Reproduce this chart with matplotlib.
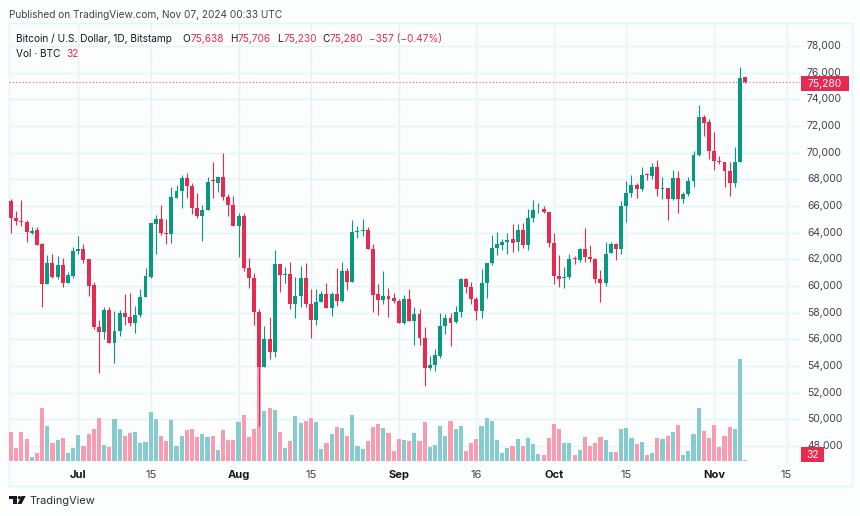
import numpy as np
import pandas as pd
import matplotlib
matplotlib.use("Agg")
import matplotlib.pyplot as plt
from matplotlib.patches import Polygon, Rectangle, Circle
from matplotlib.lines import Line2D
from matplotlib.transforms import blended_transform_factory

start_date = "2024-06-18"

opens = [66400, 65075, 64875, 64775, 63975, 64200, 63125, 60150, 61700, 60700, 61575, 60250, 60775,
         62650, 62750, 62000, 60075, 56950, 56550, 58200, 55750, 56600, 57950, 57650, 57250, 57825,
         59200, 60700, 64675, 65000, 64000, 63900, 66625, 67100, 68100, 67500, 65875, 65250, 65700,
         67925, 67750, 68150, 66700, 66100, 64500, 65250, 61350, 60600, 58050, 53950, 56000, 55050,
         61650, 60800, 60875, 58650, 59250, 60575, 58625, 57450, 58800, 59425, 58375, 59375, 58900,
         61100, 60325, 64050, 64125, 64200, 62750, 59400, 58950, 59275, 59075, 58900, 57200, 59050,
         57400, 57875, 56100, 53850, 54075, 54775, 57000, 57600, 57275, 58050, 60500, 59925, 59025,
         58150, 60250, 61700, 62850, 63100, 63275, 63500, 63300, 64225, 63050, 65125, 65750, 65800,
         65525, 63250, 60725, 60575, 60650, 62075, 61950, 62750, 62150, 62025, 60525, 60200, 62450,
         63150, 62750, 66000, 67000, 67550, 67300, 68400, 68275, 68950, 67300, 67325, 66500, 68075,
         66500, 66900, 67875, 69850, 72650, 72275, 70150, 69400, 69275, 68650, 67750, 69325, 75638]
highs = [66500, 65650, 66450, 64950, 64400, 64400, 63200, 62325, 62400, 62250, 62075, 61075, 62900,
         63750, 63150, 62000, 60325, 57450, 58400, 58400, 58125, 58200, 59400, 59450, 58500, 59800,
         61325, 64725, 65325, 66075, 65050, 67400, 67550, 68300, 68450, 67750, 67000, 66075, 68150,
         69325, 68200, 69950, 66900, 66750, 65450, 65500, 62075, 60950, 58250, 57000, 57650, 62700,
         61650, 61450, 61800, 60650, 61525, 61750, 59750, 59750, 59650, 60200, 59575, 61350, 61775,
         61350, 64950, 64500, 65050, 64400, 63150, 60150, 61150, 59825, 59450, 59000, 59325, 59750,
         58450, 58250, 56950, 54750, 55250, 57950, 57900, 57950, 58500, 60575, 60575, 60325, 59150,
         61250, 61700, 63825, 64050, 63500, 63950, 64625, 64625, 64700, 65750, 66450, 66200, 66025,
         65525, 64000, 62300, 61400, 62400, 62250, 62825, 64375, 63075, 62100, 61200, 63325, 63325,
         63200, 66400, 67850, 68325, 67750, 68950, 68500, 69250, 69450, 68150, 67325, 68700, 68650,
         67075, 68150, 70150, 73575, 72825, 72500, 71575, 69750, 69325, 69325, 70450, 76400, 75706]
lows = [63950, 64575, 64500, 63325, 63875, 63075, 58450, 60150, 60575, 60500, 59900, 60200, 60575,
        62400, 61700, 59275, 56750, 53500, 56000, 55700, 54250, 56275, 57100, 57000, 56500, 57700,
        59200, 60600, 62400, 63850, 63150, 63250, 66575, 65825, 66575, 65400, 65075, 63375, 65700,
        66575, 67025, 66450, 65250, 64500, 62150, 61100, 59825, 57075, 49500, 53950, 54500, 54700,
        59550, 60200, 58250, 57625, 58450, 58450, 56100, 57075, 58800, 58325, 57775, 58500, 58825,
        59700, 60325, 63575, 63750, 62775, 58050, 57825, 58650, 57700, 58700, 57200, 57125, 57350,
        55550, 55575, 52500, 53700, 53625, 54575, 56375, 55500, 57250, 57650, 59450, 58650, 57450,
        57625, 59100, 61575, 62300, 62700, 62400, 62575, 62650, 62875, 62700, 64825, 65450, 65450,
        62900, 60125, 59900, 59825, 60500, 61650, 61775, 61825, 61800, 60200, 58825, 60000, 62450,
        61950, 62400, 64775, 66700, 66575, 67150, 67950, 68000, 66750, 66500, 64950, 66450, 65450,
        66250, 66750, 67450, 69750, 71250, 69550, 68700, 69150, 67450, 66750, 67400, 69325, 75230]
closes = [65075, 64875, 64775, 64050, 64150, 63075, 60150, 61700, 60700, 61575, 60250, 60825, 62625,
          62775, 61950, 60025, 56950, 56550, 58200, 55700, 56625, 57950, 57650, 57250, 57825, 59150,
          60750, 64725, 65000, 64000, 63900, 66650, 67100, 68100, 67500, 65875, 65250, 65700, 67825,
          67875, 68200, 66700, 66100, 64500, 65250, 61350, 60600, 58050, 53950, 56000, 55050, 61650,
          60800, 60875, 58650, 59250, 60575, 58625, 57450, 58775, 59425, 58325, 59425, 58900, 61100,
          60325, 64050, 64125, 64200, 62775, 59350, 58950, 59275, 59025, 58900, 57225, 59050, 57400,
          57875, 56100, 53875, 54075, 54825, 57000, 57600, 57250, 58050, 60500, 59925, 59025, 58150,
          60250, 61700, 62875, 63125, 63300, 63475, 63250, 64200, 63050, 65100, 65675, 65800, 65525,
          63200, 60750, 60550, 60650, 62000, 62000, 62750, 62150, 62025, 60500, 60200, 62400, 63150,
          62750, 66025, 67000, 67550, 67300, 68350, 68350, 68950, 67250, 67350, 66500, 68075, 66500,
          66900, 67875, 69850, 72650, 72250, 70150, 69400, 69275, 68650, 67750, 69325, 75575, 75280]
volumes = [1465, 635, 1435, 1085, 185, 415, 2635, 1765, 915, 1050, 1135, 385, 635, 1285, 750, 1335, 1585,
           2135, 800, 715, 2115, 1585, 1250, 1385, 1435, 915, 965, 2465, 2115, 1250, 1015, 2050, 765, 1250,
           1550, 1585, 1185, 1350, 1185, 1250, 550, 1550, 1050, 1065, 1935, 2300, 1215, 1585, 4800, 2500,
           2635, 2550, 1465, 665, 985, 2265, 1915, 2000, 2135, 1935, 600, 915, 1350, 1715, 1665, 1265, 2285,
           765, 600, 985, 1685, 1835, 1650, 1385, 500, 1085, 1065, 985, 1385, 1000, 1935, 700, 815, 1750,
           1250, 2000, 1585, 1735, 515, 915, 1115, 1765, 2135, 2000, 1065, 400, 635, 735, 1085, 765, 1165,
           850, 350, 315, 1165, 1850, 1615, 915, 915, 300, 565, 1215, 735, 900, 1185, 1050, 450, 435, 1585,
           1650, 1150, 865, 950, 285, 400, 1165, 1085, 1265, 1435, 1815, 315, 500, 1350, 2635, 1485, 1165,
           1785, 700, 1265, 1685, 1585, 5100, 32]

price_ticks = list(range(48000, 80000, 2000))
tick_dates = ["2024-07-01", "2024-07-15", "2024-08-01", "2024-08-15", "2024-09-01", "2024-09-16",
              "2024-10-01", "2024-10-15", "2024-11-01", "2024-11-15"]
tick_labels = ["Jul", "15", "Aug", "15", "Sep", "16", "Oct", "15", "Nov", "15"]
month_labels = ["Jul", "Aug", "Sep", "Oct", "Nov"]

GREEN = "#089981"
RED = "#E62A50"
GREEN_VOL = "#86CBD0"
RED_VOL = "#F99BB1"
GRID = "#E0F5F8"
TEXT = "#131722"
AXIS_TEXT = "#3C4250"
BG = "#FCFDFD"

W, H = 860, 516
plt.rcParams["font.family"] = ["Inter", "DejaVu Sans"]


def px_x(x):
    return x / W


def px_y(y):
    return 1 - y / H


fig = plt.figure(figsize=(W / 100, H / 100), dpi=100, facecolor=BG)

# plot area in pixels
left, right, top, bottom = 8.5, 800, 23, 464
rect = [px_x(left), px_y(bottom), (right - left) / W, (bottom - top) / H]
xlim = (-13.5, 139.6)
ylim = (46650, 79725)

x = (pd.date_range(start_date, periods=len(opens)) - pd.Timestamp("2024-07-01")).days.to_numpy()
tick_x = (pd.to_datetime(tick_dates) - pd.Timestamp("2024-07-01")).days.to_numpy()
opens = np.array(opens)
highs = np.array(highs)
lows = np.array(lows)
closes = np.array(closes)
up = closes >= opens
colors = np.where(up, GREEN, RED)

# grid lines run under everything
ax_grid = fig.add_axes(rect, zorder=1)
ax_grid.set_xlim(xlim)
ax_grid.set_ylim(ylim)
ax_grid.hlines(price_ticks, xlim[0], xlim[1], colors=GRID, linewidth=0.9)
ax_grid.vlines(tick_x, ylim[0], ylim[1], colors=GRID, linewidth=0.9)
ax_grid.axis("off")

# volume sits on its own scale
ax_vol = fig.add_axes(rect, zorder=2)
ax_vol.set_xlim(xlim)
ax_vol.bar(x, volumes, width=0.8, color=np.where(up, GREEN_VOL, RED_VOL), linewidth=0)
ax_vol.set_ylim(-150, 21900)
ax_vol.axis("off")

# candles
ax = fig.add_axes(rect, zorder=3)
ax.set_facecolor("none")
ax.vlines(x, lows, highs, colors=colors, linewidth=0.8, zorder=3)
body_bottom = np.minimum(opens, closes)
body_height = np.maximum(np.abs(closes - opens), 40)
ax.bar(x, body_height, bottom=body_bottom, width=0.76, color=colors, linewidth=0, zorder=4)
ax.axhline(closes[-1], color=RED, linewidth=0.8, linestyle=(0, (1, 2)), alpha=0.8, zorder=2)
ax.set_xlim(xlim)
ax.set_ylim(ylim)
ax.axis("off")

# pane frame
for x0, y0, x1, y1 in [(8.5, 23, 852, 23), (8.5, 486, 852, 486), (8.5, 23, 8.5, 486), (852, 23, 852, 486)]:
    fig.add_artist(Line2D([px_x(x0), px_x(x1)], [px_y(y0), px_y(y1)], color=GRID, linewidth=1))

# price scale labels
price_trans = blended_transform_factory(fig.transFigure, ax.transData)
for p in price_ticks:
    ax.text(px_x(807), p, f"{p:,}", transform=price_trans, fontsize=7.5, color=AXIS_TEXT,
            va="center", ha="left", clip_on=False, zorder=6)

# time scale labels
time_trans = blended_transform_factory(ax.transData, fig.transFigure)
for d, lab in zip(tick_x, tick_labels):
    bold = lab in month_labels
    ax.text(d, px_y(475), lab, transform=time_trans, fontsize=8.0,
            color=TEXT if bold else AXIS_TEXT, fontweight="bold" if bold else "normal",
            va="center", ha="center", clip_on=False)

# last value tags on the price scale
fig.add_artist(Rectangle((px_x(800.5), px_y(90.5)), 48.5 / W, 14.5 / H, transform=fig.transFigure,
                         facecolor=RED, edgecolor="none", zorder=10))
fig.text(px_x(824.5), px_y(83.5), f"{closes[-1]:,}", color="white", fontsize=7.5, ha="center", va="center", zorder=11)
fig.add_artist(Rectangle((px_x(800.5), px_y(461.5)), 23.5 / W, 14.5 / H, transform=fig.transFigure,
                         facecolor=RED, edgecolor="none", zorder=10))
fig.text(px_x(812.5), px_y(454.5), f"{volumes[-1]}", color="white", fontsize=7.5, ha="center", va="center", zorder=11)

# header text
fig.text(px_x(9), px_y(15.5), "Published on TradingView.com, Nov 07, 2024 00:33 UTC", fontsize=7.25, color=AXIS_TEXT, va="center")
fig.text(px_x(15.5), px_y(39), "Bitcoin / U.S. Dollar, 1D, Bitstamp", fontsize=7.25, color=TEXT, va="center")
for xp, label, col in [(182, "O", TEXT), (190, f"{opens[-1]:,}", RED),
                       (229.7, "H", TEXT), (237.5, f"{highs[-1]:,}", RED),
                       (276.7, "L", TEXT), (283, f"{lows[-1]:,}", RED),
                       (322.3, "C", TEXT), (329.5, f"{closes[-1]:,}", RED),
                       (369.3, "\u2212357 (\u22120.47%)", RED)]:
    fig.text(px_x(xp), px_y(39), label, fontsize=7.25, color=col, va="center")
fig.text(px_x(15.5), px_y(54), "Vol \u00b7 BTC", fontsize=7.25, color=TEXT, va="center")
fig.text(px_x(66.3), px_y(54), f"{volumes[-1]}", fontsize=7.25, color=RED, va="center")

# TradingView logo
logo = [[(8.5, 496), (17, 496), (17, 504), (12.5, 504), (12.5, 499), (8.5, 499)],
        [(21.5, 496), (25.7, 496), (21.5, 504), (17.5, 504)]]
for pts in logo:
    fig.add_artist(Polygon([(px_x(a), px_y(b)) for a, b in pts], closed=True, transform=fig.transFigure,
                           facecolor="#131722", edgecolor="none"))
ax_logo = fig.add_axes([0, 0, 1, 1], zorder=0)
ax_logo.set_xlim(0, W)
ax_logo.set_ylim(H, 0)
ax_logo.axis("off")
ax_logo.add_patch(Circle((19.3, 497.6), 1.6, facecolor="#131722", edgecolor="none"))
fig.text(px_x(29.3), px_y(501.5), "TradingView", fontsize=7.9, color="#2A2E39", va="center")

fig.savefig("out.png", dpi=100, facecolor=BG)
